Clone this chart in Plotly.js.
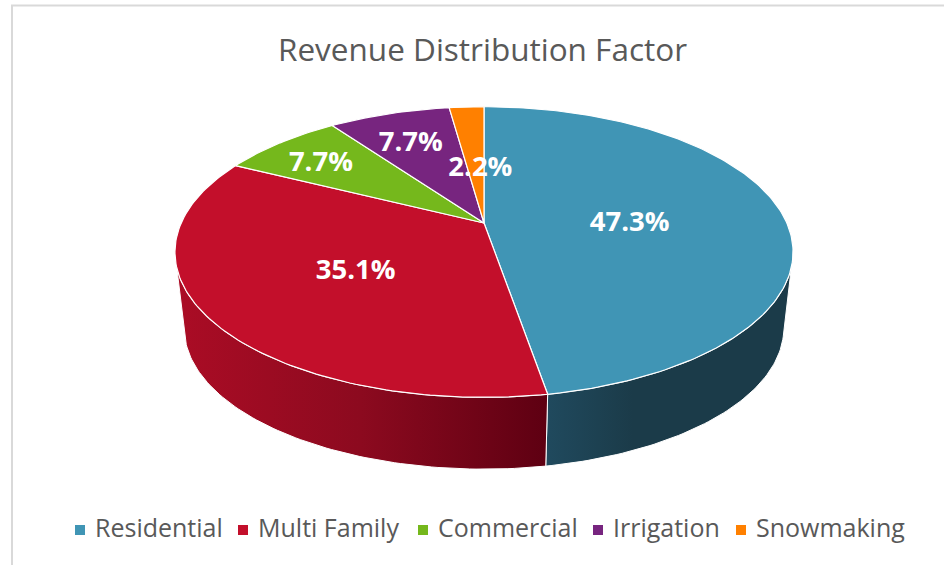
<!DOCTYPE html>
<html>
<head>
<meta charset="utf-8">
<script src="https://cdn.plot.ly/plotly-3.0.1.min.js"></script>
<style>html,body{margin:0;padding:0;background:#fff}#chart{width:944px;height:565px}</style>
</head>
<body>
<div id="chart"></div>
<script>
// Chart data
var categories = ["Residential", "Multi Family", "Commercial", "Irrigation", "Snowmaking"];
var shares = [47.3, 35.1, 7.7, 7.7, 2.2];
var sliceColors = ["#4095b5", "#c30f2b", "#75b81c", "#77257f", "#ff8000"];
var wallGradients = {
  0: [[0, "#204a5e"], [0.35, "#1b3b49"], [1, "#1b3b49"]],
  1: [[0, "#ab0c25"], [0.5, "#8c0a1f"], [1, "#5e0012"]]
};
var labelRadius = [0.49, 0.5, 0.78, 0.73, 0.45];
var labelDx = [-1, 1, 0, -1, 5];
var labelDy = [7, 5, 5, 4, 4];
var legendX = [80, 243, 423, 598, 741];

// Projection of the tilted disc onto the page
var view = {cx: 484, cy: 223, f: 302.8, c: 139.5, k: 0.2, drop: 77, shrink: 0.97};
function project(deg, r, lower) {
  var a = deg * Math.PI / 180, x = r * Math.sin(a), y = r * Math.cos(a), d = 1 + view.k * y;
  var s = lower ? view.shrink : 1;
  return [view.cx + s * view.f * x / d, view.cy + (lower ? view.drop : 0) - s * view.c * y / d];
}
function arc(a0, a1, lower) {
  var out = [], n = Math.max(2, Math.ceil(Math.abs(a1 - a0)));
  for (var i = 0; i <= n; i++) out.push(project(a0 + (a1 - a0) * i / n, 1, lower));
  return out;
}

var total = shares.reduce(function (a, b) { return a + b; }, 0);
var edges = [0];
shares.forEach(function (v) { edges.push(edges[edges.length - 1] + v / total * 360); });

var traces = [];

// Side walls: only the part of the rim facing the viewer
var wallFrom = 102, wallTo = 258;
[0, 1].forEach(function (i) {
  var a0 = Math.max(edges[i], wallFrom), a1 = Math.min(edges[i + 1], wallTo);
  var pts = arc(a0, a1, false).concat(arc(a1, a0, true));
  pts.push(pts[0]);
  traces.push({
    type: "scatter", mode: "lines", hoverinfo: "skip", showlegend: false,
    x: pts.map(function (p) { return p[0]; }), y: pts.map(function (p) { return p[1]; }),
    fill: "toself",
    fillgradient: {type: "horizontal", colorscale: i === 1 ? wallGradients[1] : wallGradients[0]},
    line: {color: "#ffffff", width: 1}
  });
});

// Top face
shares.forEach(function (v, i) {
  var pts = [project(0, 0, false)].concat(arc(edges[i], edges[i + 1], false));
  pts.push(pts[0]);
  traces.push({
    type: "scatter", mode: "lines", name: categories[i], showlegend: false, hoverinfo: "skip",
    x: pts.map(function (p) { return p[0]; }), y: pts.map(function (p) { return p[1]; }),
    fill: "toself", fillcolor: sliceColors[i], line: {color: "#ffffff", width: 1.2}
  });
});

// Value labels
var labelPts = shares.map(function (v, i) { return project((edges[i] + edges[i + 1]) / 2, labelRadius[i], false); });
traces.push({
  type: "scatter", mode: "text", showlegend: false, hoverinfo: "skip",
  x: labelPts.map(function (p, i) { return p[0] + labelDx[i]; }),
  y: labelPts.map(function (p, i) { return p[1] + labelDy[i]; }),
  text: shares.map(function (v) { return v.toFixed(1) + "%"; }),
  textposition: "middle center", cliponaxis: false,
  textfont: {family: "Open Sans, sans-serif", size: 27.5, color: "#ffffff", weight: 700}
});

// Legend row
categories.forEach(function (name, i) {
  traces.push({
    type: "scatter", mode: "markers", name: name, showlegend: false, hoverinfo: "skip",
    x: [legendX[i]], y: [530],
    marker: {symbol: "square", size: 10, color: sliceColors[i]}
  });
  traces.push({
    type: "scatter", mode: "text", showlegend: false, hoverinfo: "skip",
    x: [legendX[i] + 15], y: [531], text: [name], textposition: "middle right",
    textfont: {family: "Open Sans, sans-serif", size: 25, color: "#595959"}
  });
});

var layout = {
  width: 944, height: 565,
  margin: {l: 0, r: 0, t: 0, b: 0},
  paper_bgcolor: "#ffffff", plot_bgcolor: "#ffffff",
  showlegend: false,
  title: {
    text: "Revenue Distribution Factor",
    x: 482.5 / 944, xanchor: "center", y: 1 - 50 / 565, yanchor: "middle",
    font: {family: "Open Sans, sans-serif", size: 31.5, color: "#595959"}
  },
  xaxis: {visible: false, range: [0, 944], fixedrange: true},
  yaxis: {visible: false, range: [565, 0], fixedrange: true},
  shapes: [
    {type: "line", xref: "x", yref: "y", x0: 11, x1: 944, y0: 5.5, y1: 5.5, line: {color: "#d9d9d9", width: 2}},
    {type: "line", xref: "x", yref: "y", x0: 12, x1: 12, y0: 5, y1: 565, line: {color: "#d9d9d9", width: 2}}
  ]
};

Plotly.newPlot("chart", traces, layout, {displayModeBar: false, staticPlot: true});
</script>
</body>
</html>
